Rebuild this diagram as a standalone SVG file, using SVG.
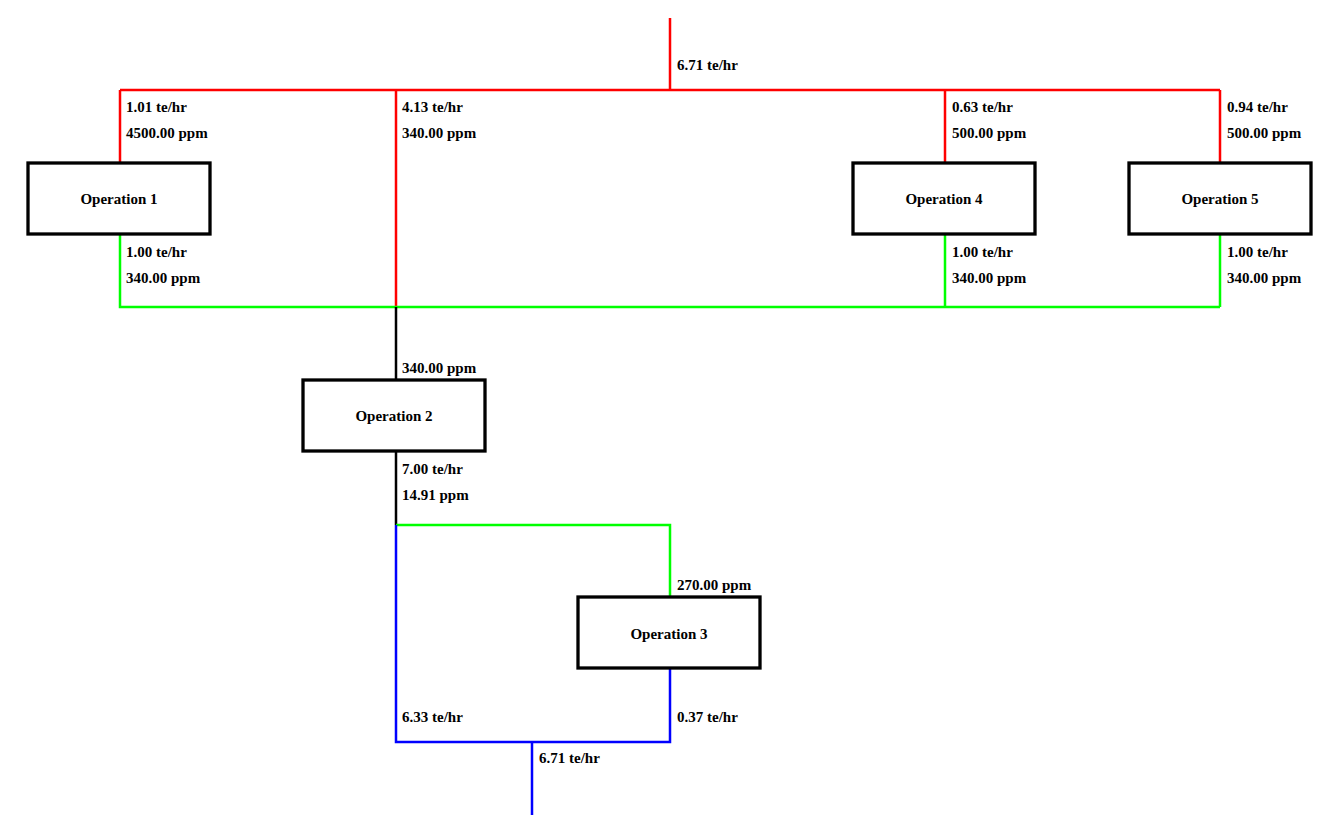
<svg xmlns="http://www.w3.org/2000/svg" width="1337" height="822" viewBox="0 0 1337 822">
<style>
text{font-family:"Liberation Serif","Times New Roman",serif;font-weight:bold;font-size:15px;fill:#000}
.n{text-anchor:middle}
.box{fill:#fff;stroke:#000;stroke-width:3.3}
.r{stroke:#ff0000;stroke-width:2.5;fill:none}
.g{stroke:#00ff00;stroke-width:2.5;fill:none}
.k{stroke:#000;stroke-width:2.5;fill:none}
.b{stroke:#0000ff;stroke-width:2.5;fill:none}
</style>
<rect width="1337" height="822" fill="#fff"/>
<g id="connectors">
<path class="r" d="M670 18V90M120 90H1220M120 90V163M396 90V307M945 90V163M1220 90V163"/>
<path class="g" d="M120 234V307H1220M945 234V307M1220 234V307"/>
<path class="k" d="M396 307V380M396 451V525"/>
<path class="g" d="M396 525H670V597"/>
<path class="b" d="M396 525V742H670V668M532 742V815"/>
</g>
<g id="labels">
<text x="677" y="70">6.71 te/hr</text>
<text x="126" y="112">1.01 te/hr</text>
<text x="126" y="138">4500.00 ppm</text>
<text x="402" y="112">4.13 te/hr</text>
<text x="402" y="138">340.00 ppm</text>
<text x="952" y="112">0.63 te/hr</text>
<text x="952" y="138">500.00 ppm</text>
<text x="1227" y="112">0.94 te/hr</text>
<text x="1227" y="138">500.00 ppm</text>
<text x="126" y="257">1.00 te/hr</text>
<text x="126" y="283">340.00 ppm</text>
<text x="952" y="257">1.00 te/hr</text>
<text x="952" y="283">340.00 ppm</text>
<text x="1227" y="257">1.00 te/hr</text>
<text x="1227" y="283">340.00 ppm</text>
<text x="402" y="373">340.00 ppm</text>
<text x="402" y="474">7.00 te/hr</text>
<text x="402" y="500">14.91 ppm</text>
<text x="677" y="590">270.00 ppm</text>
<text x="402" y="722">6.33 te/hr</text>
<text x="677" y="722">0.37 te/hr</text>
<text x="539" y="763">6.71 te/hr</text>
</g>
<g id="op1"><rect class="box" x="28" y="163" width="182" height="71"/><text class="n" x="119" y="204">Operation 1</text></g>
<g id="op4"><rect class="box" x="853" y="163" width="182" height="71"/><text class="n" x="944" y="204">Operation 4</text></g>
<g id="op5"><rect class="box" x="1129" y="163" width="182" height="71"/><text class="n" x="1220" y="204">Operation 5</text></g>
<g id="op2"><rect class="box" x="303" y="380" width="182" height="71"/><text class="n" x="394" y="421">Operation 2</text></g>
<g id="op3"><rect class="box" x="578" y="597" width="182" height="71"/><text class="n" x="669" y="639">Operation 3</text></g>
</svg>
